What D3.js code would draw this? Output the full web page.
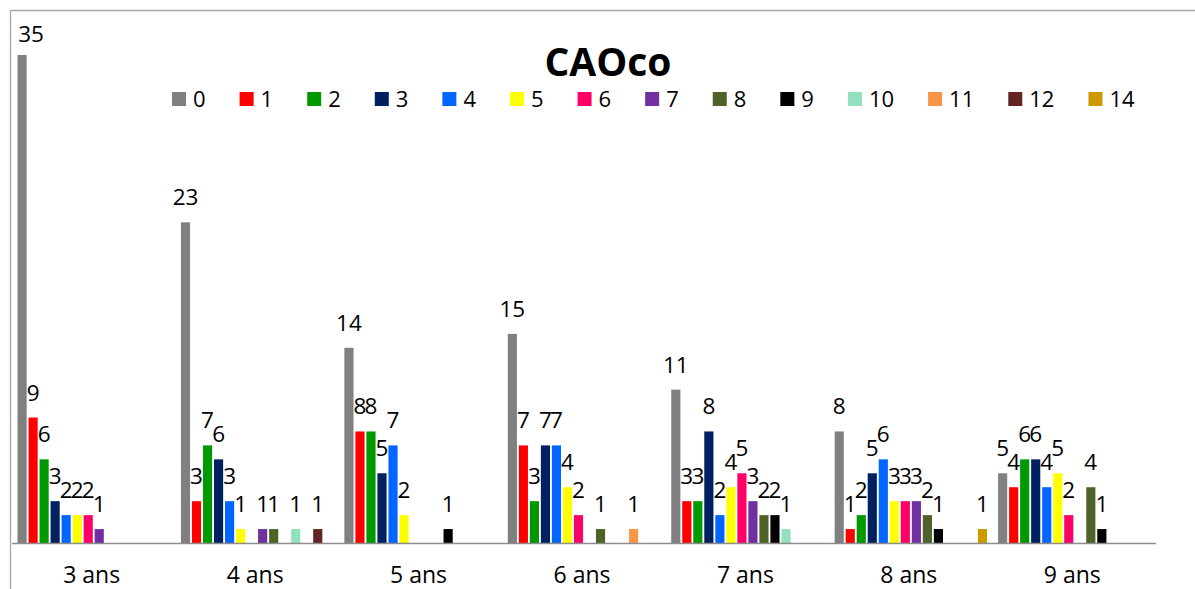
<!DOCTYPE html>
<html>
<head>
<meta charset="utf-8">
<script src="https://cdn.jsdelivr.net/npm/d3@7"></script>
<style>
  body { margin: 0; background: #fff; }
  svg { display: block; font-family: 'Open Sans', sans-serif; }
  .bar-label { font-size: 22.5px; fill: #000; text-anchor: middle; }
  .cat-label { font-size: 23px; fill: #000; text-anchor: middle; }
  .legend-text { font-size: 22px; fill: #000; }
</style>
</head>
<body>
<svg id="chart" width="1195" height="589"></svg>
<script>
// Age groups (x categories)
const categories = ['3 ans', '4 ans', '5 ans', '6 ans', '7 ans', '8 ans', '9 ans'];

// Series names (legend) and colours
const seriesNames = ['0', '1', '2', '3', '4', '5', '6', '7', '8', '9', '10', '11', '12', '14'];
const seriesColors = ['#808080', '#ff0000', '#009900', '#002060', '#0066ff', '#ffff00', '#ff0066',
  '#7030a0', '#4f6228', '#000000', '#92e0be', '#f79646', '#632523', '#cc9900'];

// Counts per age group, one value per series (same order as seriesNames)
const values3 = [35, 9, 6, 3, 2, 2, 2, 1, 0, 0, 0, 0, 0, 0];
const values4 = [23, 3, 7, 6, 3, 1, 0, 1, 1, 0, 1, 0, 1, 0];
const values5 = [14, 8, 8, 5, 7, 2, 0, 0, 0, 1, 0, 0, 0, 0];
const values6 = [15, 7, 3, 7, 7, 4, 2, 0, 1, 0, 0, 1, 0, 0];
const values7 = [11, 3, 3, 8, 2, 4, 5, 3, 2, 2, 1, 0, 0, 0];
const values8 = [8, 1, 2, 5, 6, 3, 3, 3, 2, 1, 0, 0, 0, 1];
const values9 = [5, 4, 6, 6, 4, 5, 2, 0, 4, 1, 0, 0, 0, 0];

const chartTitle = 'CAOco';

class GroupedBarChart {
  constructor(svgContainer, rows) {
    this.svg = svgContainer;
    this.rows = rows;
    this.init();
    this.update();
  }

  init() {
    // Plot area as measured on the reference
    this.margin = { top: 55, left: 12 };
    this.width = 1144;
    this.height = 488;
    this.baseline = this.margin.top + this.height;

    // Outer chart frame (only the top and left edges show in the window)
    this.svg.append('path')
      .attr('d', 'M10.5,600 V10.5 H1200')
      .attr('fill', 'none')
      .attr('stroke', '#a6a6a6')
      .attr('stroke-width', 1.3);

    // Group scale and inner series scale
    this.x0 = d3.scaleBand()
      .domain(categories)
      .range([this.margin.left, this.margin.left + this.width]);

    this.x1 = d3.scaleBand()
      .domain(seriesNames)
      .range([0, this.x0.bandwidth()])
      .paddingInner(0.17)
      .paddingOuter(0.5);

    // Value 35 sits at the top of the drawing area
    this.y = d3.scaleLinear()
      .domain([0, 35])
      .range([this.baseline, this.margin.top]);

    this.color = d3.scaleOrdinal()
      .domain(seriesNames)
      .range(seriesColors);

    this.chart = this.svg.append('g');
  }

  update() {
    const vis = this;

    const groups = vis.chart.selectAll('.group')
      .data(vis.rows)
      .join('g')
      .attr('class', 'group')
      .attr('transform', (d) => `translate(${vis.x0(d.category)},0)`);

    const cells = (d) => seriesNames
      .map((s, i) => ({ series: s, value: d.values[i], gx: vis.x0(d.category) }))
      .filter((c) => c.value > 0);

    // Bars
    groups.selectAll('rect')
      .data(cells)
      .join('rect')
      .attr('x', (d) => vis.x1(d.series))
      .attr('y', (d) => vis.y(d.value))
      .attr('width', vis.x1.bandwidth())
      .attr('height', (d) => vis.baseline - vis.y(d.value))
      .attr('fill', (d) => vis.color(d.series));

    // Value labels above each bar (kept inside the chart frame, like Excel does)
    groups.selectAll('.bar-label')
      .data(cells)
      .join('text')
      .attr('class', 'bar-label')
      .attr('x', (d) => Math.max(vis.x1(d.series) + vis.x1.bandwidth() / 2, 31 - d.gx))
      .attr('y', (d) => Math.max(vis.y(d.value) - 17, 42))
      .text((d) => d.value);

    // X axis line
    vis.chart.append('line')
      .attr('x1', vis.margin.left)
      .attr('x2', vis.margin.left + vis.width)
      .attr('y1', vis.baseline + 0.5)
      .attr('y2', vis.baseline + 0.5)
      .attr('stroke', '#8c8c8c')
      .attr('stroke-width', 1.6);

    // Category labels
    vis.chart.selectAll('.cat-label')
      .data(categories)
      .join('text')
      .attr('class', 'cat-label')
      .attr('x', (d) => vis.x0(d) + vis.x0.bandwidth() / 2 - 2)
      .attr('y', 583)
      .text((d) => d);

    // Title
    vis.svg.append('text')
      .attr('x', 608)
      .attr('y', 76)
      .attr('text-anchor', 'middle')
      .style('font-size', '39px')
      .style('font-weight', 'bold')
      .text(chartTitle);

    // Legend, laid out left to right from the text widths
    const legend = vis.svg.append('g').attr('transform', 'translate(172,92)');
    let lx = 0;
    seriesNames.forEach((s) => {
      const item = legend.append('g').attr('transform', `translate(${lx},0)`);
      item.append('rect')
        .attr('width', 14)
        .attr('height', 14)
        .attr('fill', vis.color(s));
      const t = item.append('text')
        .attr('class', 'legend-text')
        .attr('x', 21)
        .attr('y', 15)
        .text(s);
      lx += 21 + t.node().getComputedTextLength() + 34;
    });
  }
}

const rows = [values3, values4, values5, values6, values7, values8, values9]
  .map((values, i) => ({ category: categories[i], values }));

new GroupedBarChart(d3.select('#chart'), rows);
</script>
</body>
</html>
